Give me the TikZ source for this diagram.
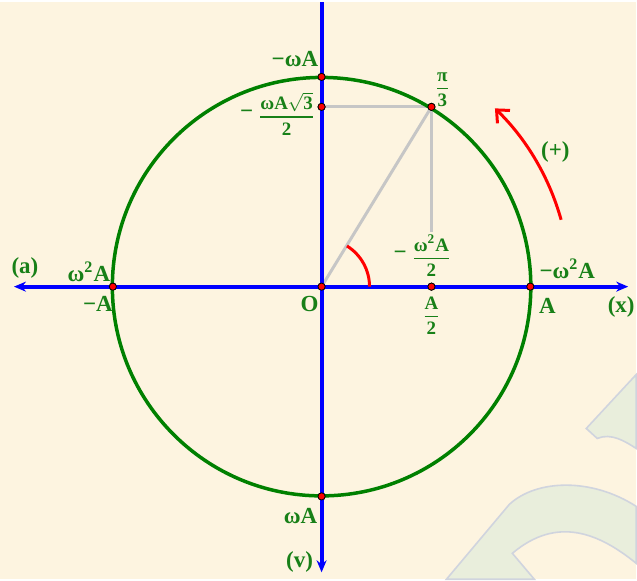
\documentclass[tikz,border=0pt]{standalone}
\usepackage{amsmath}
\usepackage{fontspec}
\setmainfont{Liberation Serif}
\usetikzlibrary{arrows.meta, positioning}

\definecolor{bgcream}{RGB}{253,244,224}
\definecolor{circgreen}{RGB}{0,128,0}
\definecolor{txtgreen}{RGB}{24,128,24}
\definecolor{markfill}{RGB}{233,238,220}
\definecolor{markline}{RGB}{208,212,222}

\newcommand{\bfrac}[2]{$\genfrac{}{}{0.8pt}{0}{\mbox{#1}}{\mbox{#2}}$}

\begin{document}
\begin{tikzpicture}[
    x=0.5pt, y=0.5pt,
    axis/.style={draw=blue, line width=2pt},
    circ/.style={draw=circgreen, line width=1.75pt},
    proj/.style={draw=gray!45, line width=1.5pt},
    turn/.style={draw=red, line width=1.5pt},
    wmark/.style={fill=markfill, draw=markline, line width=0.8pt},
    dot/.style={
        circle, fill=red, draw=black, line width=0.4pt,
        inner sep=0pt, minimum size=3.6pt
    },
    lbl/.style={text=txtgreen, font=\fontsize{11.5}{13}\selectfont\bfseries, inner sep=1pt},
    frc/.style={lbl, font=\fontsize{9.5}{11}\selectfont\bfseries},
    >={Stealth[length=6pt, width=5pt]}
]

\fill[bgcream] (-322,-293) rectangle (315,285);
\begin{scope}[shift={(-322,285)}, yscale=-1]
  \path[wmark] (637,373) -- (587,427) -- (598,437)
      .. controls (612,431) and (626,440) .. (637,447) -- cycle;
  \path[wmark] (447,578) -- (510,503)
      .. controls (537,478) and (592,476) .. (637,505) -- (637,562)
      .. controls (600,532) and (558,514) .. (513,552) -- (535,578) -- cycle;
\end{scope}

\coordinate (xl) at (-308,0);
\coordinate (xr) at (307,0);
\coordinate (vt) at (0,285);
\coordinate (vb) at (0,-286);

\node[dot] (o)    at (0,0)     {};
\node[dot] (xa)   at (209,0)   {};
\node[dot] (xma)  at (-209,0)  {};
\node[dot] (xh)   at (110,0)   {};
\node[dot] (vma)  at (0,210)   {};
\node[dot] (va)   at (0,-210)  {};
\node[dot] (vh)   at (0,180)   {};
\node[dot] (p)    at (110,180) {};

\node[frc] (acch) at (110,31) {\bfrac{ω\textsuperscript{2}A}{2}};
\node[lbl, left=0pt of acch] {−};
\node[frc] (velh) at (-35,173) {\bfrac{ωA$\sqrt{\mbox{3}}$}{2}};
\node[lbl, left=0pt of velh] {−};
\node[frc] (ang)  at (121,197) {\bfrac{π}{3}};
\node[frc] (xhl)  at (110,-29) {\bfrac{A}{2}};

\draw[proj] (o) -- (p);
\draw[proj] (vh) -- (p);
\draw[proj] (p) -- (acch.north);

\draw[circ] (0,0) circle (209.5);
\draw[axis, <->] (xl) -- (xr);
\draw[axis, ->] (vt) -- (vb);

\draw[turn] (48,0) arc[start angle=0, end angle=58, radius=48];
\draw[turn, -{Straight Barb[length=5pt, width=9pt]}]
    (15.6:249) arc[start angle=15.6, end angle=45.8, radius=249];

\node[dot] at (o)   {};
\node[dot] at (xa)  {};
\node[dot] at (xma) {};
\node[dot] at (xh)  {};
\node[dot] at (vma) {};
\node[dot] at (va)  {};
\node[dot] at (vh)  {};
\node[dot] at (p)   {};

\node[lbl, anchor=east] (mwa) at (-1,228) {−ωA};
\node[lbl] (plus) at (234,135)  {(+)};
\node[lbl] (macc) at (246,18)   {−ω\textsuperscript{2}A};
\node[lbl] (la)   at (226,-19)  {A};
\node[lbl] (lx)   at (300,-20)  {(x)};
\node[lbl] (lacc) at (-297,19)  {(a)};
\node[lbl] (pacc) at (-233,15)  {ω\textsuperscript{2}A};
\node[lbl] (lma)  at (-224,-17) {−A};
\node[lbl] (lo)   at (-12,-17)  {O};
\node[lbl] (lwa)  at (-21,-230) {ωA};
\node[lbl] (lv)   at (-22,-276) {(v)};

\end{tikzpicture}
\end{document}
